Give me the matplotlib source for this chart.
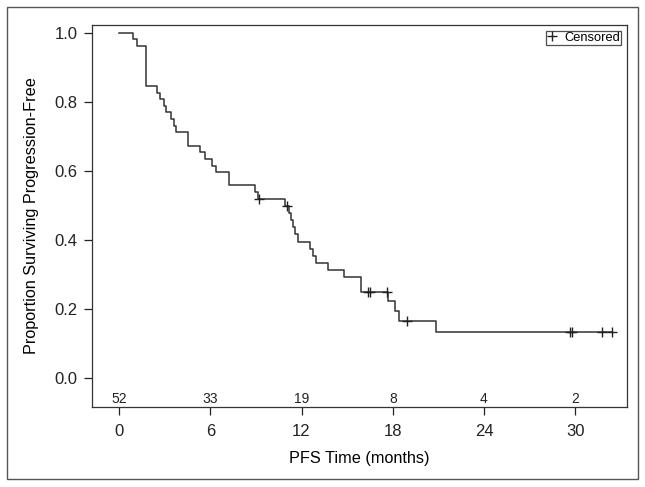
import numpy as np
import matplotlib
matplotlib.use("Agg")
import matplotlib.pyplot as plt
from matplotlib.patches import Rectangle
from matplotlib.lines import Line2D

plt.rcParams['font.family'] = ['Liberation Sans', 'DejaVu Sans']

# PFS times (months); event = 1 progression, 0 censored
times = [0.94, 1.16, 1.75, 1.75, 1.75, 1.75, 1.75, 1.75,
         2.52, 2.72, 2.95, 3.10, 3.42, 3.60, 3.72,
         4.56, 4.56, 5.33, 5.66, 6.10, 6.38, 7.26, 7.26,
         8.95, 9.12, 9.20, 10.92, 11.03,
         11.20, 11.30, 11.42, 11.58, 11.80,
         12.57, 12.78, 12.96, 13.75, 14.80, 15.90, 15.90,
         16.40, 16.50, 17.65, 17.70, 18.16, 18.38, 18.93,
         20.86, 29.67, 29.80, 31.75, 32.45]
events = [1, 1, 1, 1, 1, 1, 1, 1,
          1, 1, 1, 1, 1, 1, 1,
          1, 1, 1, 1, 1, 1, 1, 1,
          1, 1, 0, 1, 0,
          1, 1, 1, 1, 1,
          1, 1, 1, 1, 1, 1, 1,
          0, 0, 0, 1, 1, 1, 0,
          1, 0, 0, 0, 0]

risk_times = [0, 6, 12, 18, 24, 30]
risk_counts = [52, 33, 19, 8, 4, 2]
x_ticks = [0, 6, 12, 18, 24, 30]
y_ticks = [0.0, 0.2, 0.4, 0.6, 0.8, 1.0]


def kaplan_meier(t, e):
    t = np.asarray(t, dtype=float)
    e = np.asarray(e, dtype=int)
    surv = 1.0
    step_x, step_y = [0.0], [1.0]
    cens_x, cens_y = [], []
    for ut in np.unique(t):
        at_risk = np.sum(t >= ut)
        d = np.sum((t == ut) & (e == 1))
        c = np.sum((t == ut) & (e == 0))
        if d > 0:
            surv = surv * (1 - d / at_risk)
            step_x.append(ut)
            step_y.append(surv)
        if c > 0:
            cens_x.extend([ut] * c)
            cens_y.extend([surv] * c)
    step_x.append(max(t))
    step_y.append(surv)
    return step_x, step_y, cens_x, cens_y


sx, sy, cx, cy = kaplan_meier(times, events)

fig = plt.figure(figsize=(6.45, 4.87), dpi=100)
ax = fig.add_axes([0.1426, 0.165, 0.8294, 0.784])

ax.step(sx, sy, where='post', color='#333333', lw=1.1)
ax.plot(cx, cy, ls='none', marker='+', ms=7, mew=1.0, color='#222222')

ax.set_xlim(-1.78, 33.4)
ax.set_ylim(-0.083, 1.023)
ax.set_xticks(x_ticks)
ax.set_yticks(y_ticks)
ax.set_yticklabels([f"{v:.1f}" for v in y_ticks])
ax.tick_params(direction='out', length=5.5, width=0.9, labelsize=12, colors='#222222')
ax.tick_params(axis='x', pad=7)
ax.tick_params(axis='y', pad=5)
for s in ax.spines.values():
    s.set_linewidth(0.9)
    s.set_color('#333333')

ax.set_xlabel("PFS Time (months)", fontsize=11.7, labelpad=8.5)
ax.set_ylabel("Proportion Surviving Progression-Free", fontsize=11.7, labelpad=11)

# numbers at risk just above the x axis
for rt, rc in zip(risk_times, risk_counts):
    ax.text(rt, -0.061, str(rc), ha='center', va='center', fontsize=10, color='#222222')

handle = Line2D([], [], ls='none', marker='+', ms=7, mew=1.0, color='#222222')
leg = ax.legend([handle], ["Censored"], loc='upper right', fontsize=9.3, frameon=True,
                fancybox=False, handlelength=0.8, handletextpad=0.5, borderpad=0.1,
                borderaxespad=0.45)
leg.get_frame().set_edgecolor('#222222')
leg.get_frame().set_linewidth(0.9)

# outer frame around the whole figure
fig.patches.append(Rectangle((7 / 645, 8 / 487), 631 / 645, 472 / 487,
                             transform=fig.transFigure, fill=False,
                             edgecolor='#555555', lw=1.0))

fig.savefig("out.png", dpi=100)
